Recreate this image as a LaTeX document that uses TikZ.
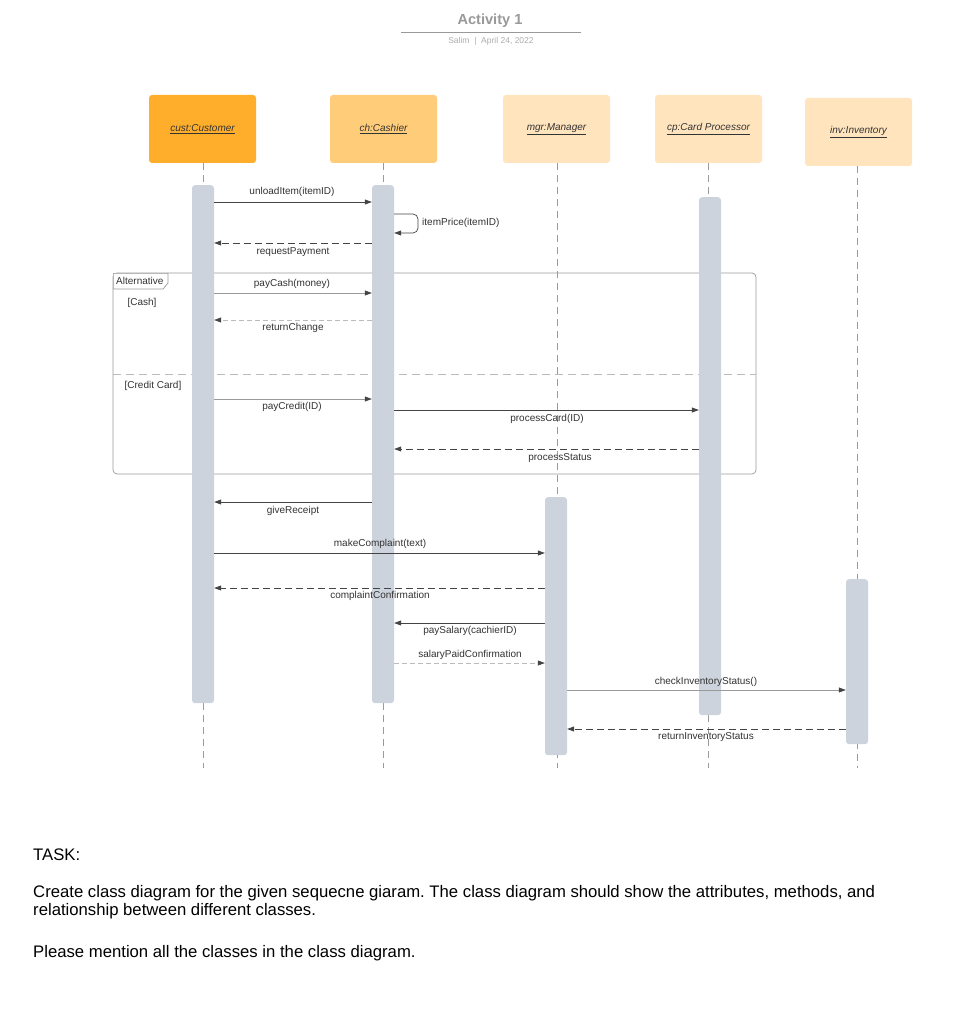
\documentclass[tikz,border=0pt]{standalone}
\usepackage{fontspec}
\setmainfont{Liberation Sans}
\usetikzlibrary{arrows.meta}
\definecolor{custc}{HTML}{FFAE2C}
\definecolor{cashc}{HTML}{FFCC7A}
\definecolor{lightc}{HTML}{FFE4BE}
\definecolor{barc}{HTML}{CDD3DC}
\definecolor{txtc}{HTML}{333333}
\definecolor{linec}{HTML}{444444}
\definecolor{lightline}{HTML}{9A9A9A}
\definecolor{faint}{HTML}{BBBBBB}
\definecolor{framec}{HTML}{999999}
\newcommand{\ulbl}[1]{\underline{#1}}
\frenchspacing
\tikzset{
  objbox/.style={rounded corners=3pt, minimum width=107pt, minimum height=68pt, inner sep=0pt, font=\fontsize{10}{12}\selectfont\itshape, text=txtc},
  actbar/.style={fill=barc, rounded corners=3pt, minimum width=22pt, inner sep=0pt, anchor=north},
  lifeline/.style={draw=lightline, line width=0.6pt, dash pattern=on 7pt off 5pt},
  msg/.style={draw=linec, line width=0.7pt, -{Triangle[length=7pt,width=5pt]}},
  msglight/.style={draw=lightline, line width=0.6pt, -{Triangle[length=7pt,width=5pt,color=linec,fill=linec]}},
  ret/.style={draw=linec, line width=0.7pt, dash pattern=on 7pt off 4pt, -{Triangle[length=7pt,width=5pt]}},
  retlight/.style={draw=faint, line width=0.6pt, dash pattern=on 5pt off 3pt, -{Triangle[length=7pt,width=5pt,color=linec,fill=linec]}},
  lbl/.style={font=\fontsize{10}{12}\selectfont, text=txtc, inner sep=0pt, yshift=-1pt},
  tasktxt/.style={font=\fontsize{16.7}{19}\selectfont, text=black, inner sep=0pt, anchor=west}
}
\begin{document}
\begin{tikzpicture}[x=1pt,y=-1pt]
\useasboundingbox[fill=white] (0,0) rectangle (977,1024);
% title
\node[font=\fontsize{14.6}{16}\selectfont\bfseries, text=framec] (title) at (490,21) {Activity 1};
\draw[draw=framec, line width=0.8pt] (401,32) coordinate (tl) -- (581,32) coordinate (tr);
\node[font=\fontsize{8.5}{10}\selectfont, text=framec!80] (sub) at (491,41) {Salim \ | \ April 24, 2022};
% object boxes
\node[objbox, fill=custc] (cust) at (202.5,129) {\ulbl{cust:Customer}};
\node[objbox, fill=cashc] (cash) at (383.5,129) {\ulbl{ch:Cashier}};
\node[objbox, fill=lightc] (mgr) at (556.5,129) {\ulbl{mgr:Manager}};
\node[objbox, fill=lightc] (cp) at (708.5,129) {\ulbl{cp:Card Processor}};
\node[objbox, fill=lightc] (inv) at (858.5,132) {\ulbl{inv:Inventory}};
% lifelines ends
\coordinate (custE) at (203,768);
\coordinate (cashE) at (383,768);
\coordinate (mgrE) at (557,768);
\coordinate (cpE) at (708,768);
\coordinate (invE) at (857,768);
\draw[lifeline] (cust.south -| custE) -- (custE);
\draw[lifeline] (cash.south -| cashE) -- (cashE);
\draw[lifeline] (mgr.south -| mgrE) -- (mgrE);
\draw[lifeline] (cp.south -| cpE) -- (cpE);
\draw[lifeline] (inv.south -| invE) -- (invE);
% alt frame
\draw[draw=framec, line width=0.7pt, rounded corners=4pt] (113,273) rectangle (756,474);
\node[inner sep=0pt] (altframe) at (434.5,373.5) {};
\draw[draw=framec, line width=0.7pt, fill=white] (113.35,273.35) -- (168,273.35) -- (168,283) -- (163,289) -- (113.35,289) -- cycle;
\node[lbl, anchor=west, yshift=1pt] (alttag) at (116,281) {Alternative};
\node[lbl] (cashg) at (142,302) {[Cash]};
\draw[draw=faint, line width=0.7pt, dash pattern=on 8pt off 5pt] (113,374) -- (756,374);
\node[lbl] (credg) at (153,385) {[Credit Card]};
% activation bars
\node[actbar, minimum height=518pt] (custB) at (203,185) {};
\node[actbar, minimum height=518pt] (cashB) at (383,185) {};
\node[actbar, minimum height=518pt] (cpB) at (710,197) {};
\node[actbar, minimum height=258pt] (mgrB) at (556,497) {};
\node[actbar, minimum height=165pt] (invB) at (857,579) {};
% messages
\draw[msg] (custB.east |- 0,202) -- (cashB.west |- 0,202);
\node[lbl] (m1) at (292,191) {unloadItem(itemID)};
\draw[msg, rounded corners=5pt] (cashB.east |- 0,214) -- (418,214) -- (418,233) -- (cashB.east |- 0,233);
\node[lbl, anchor=west] (m2) at (422,222) {itemPrice(itemID)};
\draw[ret] (cashB.west |- 0,243) -- (custB.east |- 0,243);
\node[lbl] (m3) at (293,251) {requestPayment};
\draw[msglight] (custB.east |- 0,293) -- (cashB.west |- 0,293);
\node[lbl] (m4) at (292,283) {payCash(money)};
\draw[retlight] (cashB.west |- 0,320) -- (custB.east |- 0,320);
\node[lbl] (m5) at (293,327) {returnChange};
\draw[msglight] (custB.east |- 0,399) -- (cashB.west |- 0,399);
\node[lbl] (m6) at (292,406) {payCredit(ID)};
\draw[msg] (cashB.east |- 0,410) -- (cpB.west |- 0,410);
\node[lbl] (m7) at (547,418) {processCard(ID)};
\draw[ret] (cpB.west |- 0,449) -- (cashB.east |- 0,449);
\node[lbl] (m8) at (560,457) {processStatus};
\draw[msg] (cashB.west |- 0,502) -- (custB.east |- 0,502);
\node[lbl] (m9) at (293,510) {giveReceipt};
\draw[msg] (custB.east |- 0,553) -- (mgrB.west |- 0,553);
\node[lbl] (m10) at (380,543) {makeComplaint(text)};
\draw[ret] (mgrB.west |- 0,588) -- (custB.east |- 0,588);
\node[lbl] (m11) at (380,595) {complaintConfirmation};
\draw[msg] (mgrB.west |- 0,623) -- (cashB.east |- 0,623);
\node[lbl] (m12) at (470,630) {paySalary(cachierID)};
\draw[retlight] (cashB.east |- 0,663) -- (mgrB.west |- 0,663);
\node[lbl] (m13) at (470,654) {salaryPaidConfirmation};
\draw[msglight] (mgrB.east |- 0,690) -- (invB.west |- 0,690);
\node[lbl] (m14) at (706,681) {checkInventoryStatus()};
\draw[ret] (invB.west |- 0,729) -- (mgrB.east |- 0,729);
\node[lbl] (m15) at (706,736) {returnInventoryStatus};
% task text
\node[tasktxt] (t1) at (33,855) {TASK:};
\node[tasktxt] (t2) at (33,893) {Create class diagram for the given sequecne giaram. The class diagram should show the attributes, methods, and};
\node[tasktxt] (t3) at (33,911) {relationship between different classes.};
\node[tasktxt] (t4) at (33,953) {Please mention all the classes in the class diagram.};
\end{tikzpicture}
\end{document}
